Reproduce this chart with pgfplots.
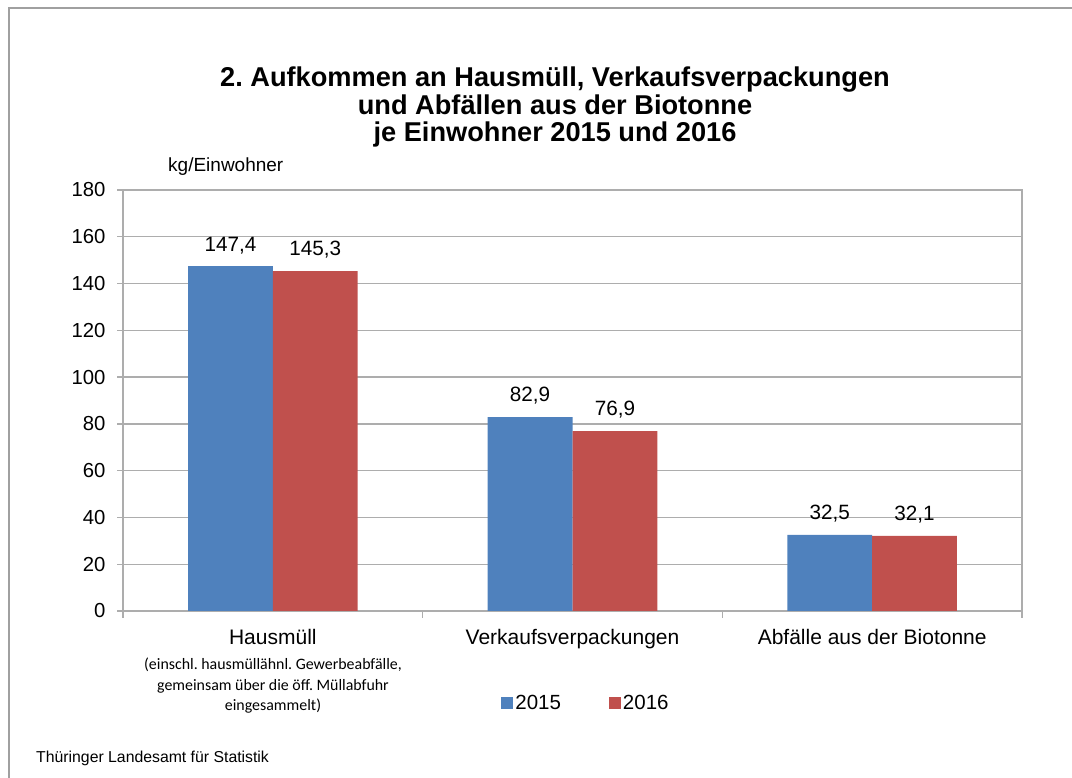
\documentclass[border=0pt]{standalone}
\usepackage{fontspec}
\setmainfont{Liberation Sans}
\newfontfamily\carlito{Carlito}
\usepackage{pgfplots}
\pgfplotsset{compat=1.18}
\definecolor{cblue}{HTML}{4F81BD}
\definecolor{cred}{HTML}{C0504D}
\definecolor{gridc}{HTML}{ADADAD}
\definecolor{framec}{HTML}{A0A0A0}
\frenchspacing
\begin{document}
\begin{tikzpicture}[x=1bp,y=1bp]
\useasboundingbox (0,0) rectangle (1072,778);
\draw[framec, line width=2bp] (9,0) -- (9,770) -- (1072,770);
\node[align=center, font=\fontsize{27.2bp}{27.5bp}\selectfont\bfseries] at (555,671) {2. Aufkommen an Hausmüll, Verkaufsverpackungen\\und Abfällen aus der Biotonne\\je Einwohner 2015 und 2016};
\node[anchor=west, font=\fontsize{19bp}{22bp}\selectfont, inner sep=0pt] at (168,611) {kg/Einwohner};
\node[anchor=west, font=\fontsize{15.8bp}{18bp}\selectfont, inner sep=0pt] at (36,20) {Thüringer Landesamt für Statistik};
\node[align=center, font=\carlito\fontsize{15.9bp}{20.5bp}\selectfont, anchor=north, inner sep=0pt] at (273,120) {(einschl. hausmüllähnl. Gewerbeabfälle,\\gemeinsam über die öff. Müllabfuhr\\eingesammelt)};
\begin{axis}[
  at={(123bp,167bp)}, anchor=south west,
  scale only axis, width=899bp, height=421bp,
  ybar=0pt, bar width=0.283,
  xmin=-0.5, xmax=2.5, ymin=0, ymax=180,
  ytick={0,20,...,180},
  xtick={0,1,2},
  xticklabels={Hausmüll, Verkaufsverpackungen, Abfälle aus der Biotonne},
  minor xtick={-0.5,0.5,1.5,2.5},
  major x tick style={draw=none},
  tick align=outside, tick pos=left,
  major tick length=6bp, minor tick length=7bp,
  tick style={gridc, line width=1.3bp},
  axis line style={gridc, line width=1.5bp},
  ymajorgrids, grid style={gridc, line width=1.3bp},
  every axis plot/.append style={draw=none},
  tick label style={font=\fontsize{20.3bp}{23bp}\selectfont, black},
  xticklabel style={yshift=-9bp, font=\fontsize{21bp}{24bp}\selectfont},
  yticklabel style={xshift=-8bp},
  /pgf/number format/assume math mode=true,
  /pgf/number format/.cd, use comma, fixed, 1000 sep={},
  /pgfplots/.cd,
  nodes near coords={\pgfmathprintnumber[fixed, fixed zerofill, precision=1, use comma, assume math mode=true]{\pgfplotspointmeta}},
  every node near coord/.append style={font=\fontsize{20.7bp}{23bp}\selectfont, black, yshift=9bp},
  legend columns=2,
  legend style={at={(0.515,-0.2185)}, anchor=center, draw=none, fill=none,
    font=\fontsize{20.5bp}{23bp}\selectfont,
    /tikz/every even column/.append style={column sep=46bp}},
  legend image code/.code={\fill[#1] (0bp,-6bp) rectangle (12bp,6bp);},
]
\addplot[fill=cblue] coordinates {(0,147.4) (1,82.9) (2,32.5)};
\addplot[fill=cred] coordinates {(0,145.3) (1,76.9) (2,32.1)};
\legend{2015,2016}
\end{axis}
\end{tikzpicture}
\end{document}
